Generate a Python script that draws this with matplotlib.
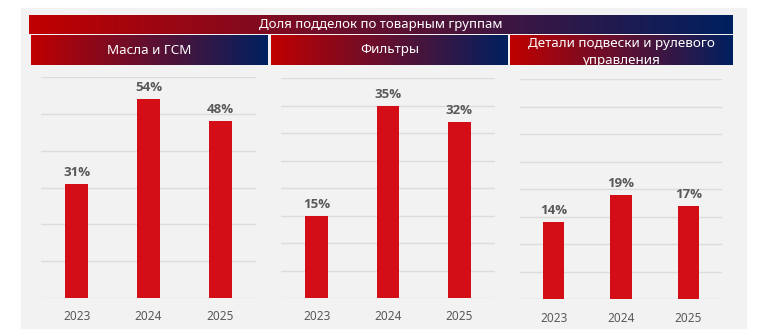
import numpy as np
import matplotlib.pyplot as plt
from matplotlib.patches import Rectangle
from matplotlib.colors import LinearSegmentedColormap

plt.rcParams['font.family'] = ['Noto Sans', 'DejaVu Sans']

titulo = 'Доля подделок по товарным группам'
grupos = ['Масла и ГСМ', 'Фильтры', 'Детали подвески и рулевого\nуправления']
anos = ['2023', '2024', '2025']
oleos = [31, 54, 48]
filtros = [15, 35, 32]
suspensao = [14, 19, 17]
valores = [oleos, filtros, suspensao]
limites = [60, 40, 40]
passos = [10, 5, 5]

W, H = 763, 336
fig = plt.figure(figsize=(W / 100, H / 100), dpi=100)

def caixa(x0, y0, x1, y1):
    # pixel box -> figure fraction
    return [x0 / W, 1 - y1 / H, (x1 - x0) / W, (y1 - y0) / H]

gradiente = LinearSegmentedColormap.from_list('g', ['#c00000', '#002060'])

# fundo cinza
fig.add_artist(Rectangle((21 / W, 1 - 328 / H), 725 / W, 320 / H,
                         transform=fig.transFigure, color='#f2f2f2', zorder=-10))

def faixa(x0, y0, x1, y1, texto, tamanho, dy=0.5, clip=False):
    ax = fig.add_axes(caixa(x0, y0, x1, y1))
    ax.imshow(np.linspace(0, 1, 256)[None, :], cmap=gradiente, aspect='auto',
              extent=[0, 1, 0, 1])
    ax.set_xlim(0, 1)
    ax.set_ylim(0, 1)
    ax.axis('off')
    t = ax.text(0.5, dy, texto, color='white', fontsize=tamanho, ha='center',
                va='center', linespacing=1.35, transform=ax.transAxes)
    if clip:
        t.set_clip_on(True)
        t.set_clip_box(ax.bbox)
    return ax

faixa(29, 15, 733, 34, titulo, 9.5)
faixa(31, 35, 268, 65, grupos[0], 9.7)
faixa(271, 35, 508, 65, grupos[1], 9.7)
faixa(510, 35, 732, 65, grupos[2], 9.7, dy=0.43, clip=True)

posicoes = [(41, 77, 256, 298), (281, 78, 495, 298), (520, 79, 722, 299)]

for i, (x0, y0, x1, y1) in enumerate(posicoes):
    ax = fig.add_axes(caixa(x0, y0, x1, y1))
    ax.set_facecolor('none')
    x = np.arange(len(anos))
    barras = ax.bar(x, valores[i], width=0.32, color='#d40e16', zorder=3)
    for b, v in zip(barras, valores[i]):
        ax.annotate(f'{v}%', (b.get_x() + b.get_width() / 2, v), xytext=(0, 3.5),
                    textcoords='offset points', ha='center', va='bottom',
                    fontsize=9.5, fontweight='bold', color='#595959',
                    family=['Open Sans', 'DejaVu Sans'])
    ax.set_xlim(-0.5, 2.5)
    ax.set_ylim(0, limites[i])
    ax.set_yticks(np.arange(0, limites[i] + 0.1, passos[i]))
    ax.yaxis.grid(True, color='#dcdcdc', linewidth=1, zorder=0)
    ax.set_yticklabels([])
    ax.set_xticks(x)
    ax.set_xticklabels(anos, fontsize=8.5, color='#595959')
    ax.tick_params(length=0, pad=9)
    for s in ax.spines.values():
        s.set_visible(False)

fig.savefig('out.png', dpi=100)
